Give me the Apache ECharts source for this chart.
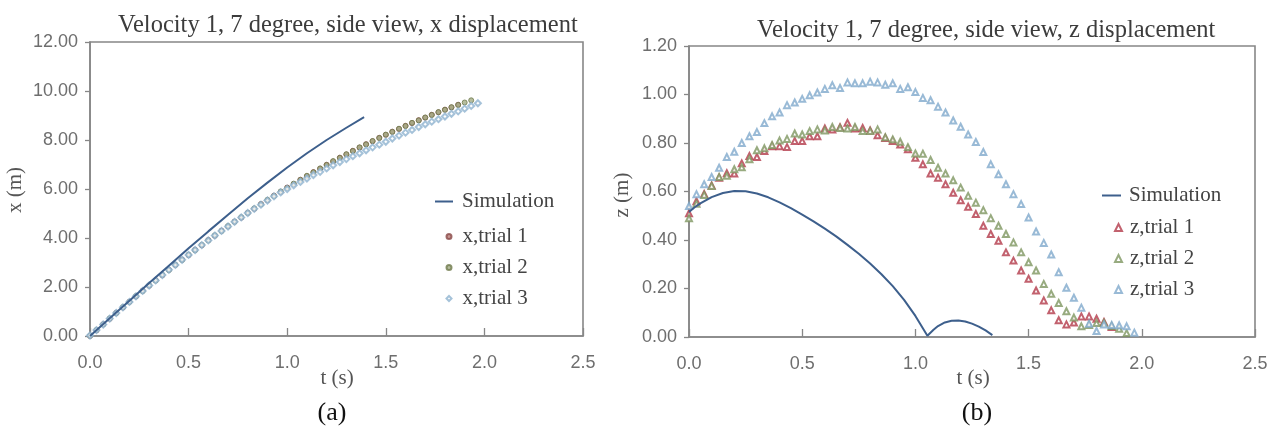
<!DOCTYPE html>
<html>
<head>
<meta charset="utf-8">
<script src="https://cdn.jsdelivr.net/npm/echarts@6/dist/echarts.min.js"></script>
<style>
html,body{margin:0;padding:0;background:#fff;}
#c{width:1276px;height:429px;}
</style>
</head>
<body>
<div id="c"></div>
<script>
// ---- data ----
var tFrames = [0, 0.033, 0.067, 0.1, 0.133, 0.167, 0.2, 0.233, 0.267, 0.3,
  0.333, 0.367, 0.4, 0.433, 0.467, 0.5, 0.533, 0.567, 0.6, 0.633,
  0.667, 0.7, 0.733, 0.767, 0.8, 0.833, 0.867, 0.9, 0.933, 0.967,
  1.0, 1.033, 1.067, 1.1, 1.133, 1.167, 1.2, 1.233, 1.267, 1.3,
  1.333, 1.367, 1.4, 1.433, 1.467, 1.5, 1.533, 1.567, 1.6, 1.633,
  1.667, 1.7, 1.733, 1.767, 1.8, 1.833, 1.867, 1.9, 1.933, 1.967];

var xSimT = [0, 0.1, 0.2, 0.3, 0.4, 0.5, 0.6, 0.7, 0.8, 0.9, 1.0, 1.1, 1.2, 1.3, 1.39];
var xSim  = [0, 0.72, 1.44, 2.16, 2.87, 3.58, 4.27, 4.95, 5.62, 6.26, 6.88, 7.46, 8.0, 8.5, 8.93];

var xTrial1 = [0, 0.23, 0.48, 0.70, 0.95, 1.16, 1.40, 1.61, 1.85, 2.05,
  2.28, 2.48, 2.70, 2.90, 3.12, 3.30, 3.52, 3.70, 3.92, 4.09,
  4.30, 4.47, 4.67, 4.83, 5.03, 5.19, 5.39, 5.54, 5.73, 5.88,
  6.06, 6.20, 6.38, 6.52, 6.69, 6.83, 6.99, 7.12, 7.28, 7.41,
  7.56, 7.69, 7.83, 7.95, 8.09, 8.21, 8.34, 8.45, 8.58, 8.69,
  8.81, 8.91, 9.03, 9.13, 9.24, 9.33, 9.44];
var xTrial2 = [0.01, 0.25, 0.47, 0.72, 0.93, 1.18, 1.39, 1.63, 1.83, 2.07,
  2.26, 2.50, 2.69, 2.91, 3.10, 3.32, 3.50, 3.72, 3.90, 4.11,
  4.28, 4.49, 4.66, 4.85, 5.02, 5.21, 5.37, 5.56, 5.71, 5.90,
  6.04, 6.22, 6.37, 6.54, 6.68, 6.84, 6.98, 7.14, 7.27, 7.42,
  7.55, 7.70, 7.82, 7.96, 8.08, 8.22, 8.33, 8.46, 8.57, 8.70,
  8.80, 8.92, 9.02, 9.14, 9.23, 9.34, 9.43, 9.53, 9.62];
var xTrial3 = [0.02, 0.24, 0.47, 0.71, 0.94, 1.17, 1.39, 1.62, 1.84, 2.06,
  2.27, 2.49, 2.70, 2.90, 3.11, 3.31, 3.51, 3.71, 3.90, 4.10,
  4.29, 4.47, 4.66, 4.84, 5.02, 5.19, 5.36, 5.53, 5.70, 5.86,
  6.00, 6.15, 6.29, 6.43, 6.57, 6.70, 6.84, 6.97, 7.10, 7.22,
  7.34, 7.46, 7.58, 7.70, 7.81, 7.93, 8.06, 8.18, 8.30, 8.41,
  8.53, 8.64, 8.75, 8.85, 8.96, 9.07, 9.17, 9.28, 9.39, 9.50];

var zSimT = [0, 0.025, 0.05, 0.1, 0.15, 0.2, 0.25, 0.3, 0.35, 0.4, 0.45, 0.5, 0.55, 0.6, 0.65, 0.7, 0.75, 0.8, 0.85, 0.9, 0.95, 1.0, 1.053,
  1.08, 1.1, 1.13, 1.16, 1.19, 1.22, 1.25, 1.28, 1.31, 1.34];
var zSim  = [0.515, 0.535, 0.551, 0.577, 0.594, 0.602, 0.601, 0.592, 0.576, 0.555, 0.531, 0.505, 0.477, 0.447, 0.415, 0.38, 0.343, 0.303, 0.259, 0.21, 0.153, 0.087, 0.005,
  0.03, 0.045, 0.06, 0.067, 0.068, 0.064, 0.055, 0.043, 0.027, 0.008];

var zTrial1 = [0.51, 0.56, 0.59, 0.625, 0.657, 0.675, 0.674, 0.716, 0.746, 0.742,
  0.767, 0.787, 0.787, 0.783, 0.808, 0.808, 0.828, 0.828, 0.86, 0.856,
  0.865, 0.883, 0.86, 0.862, 0.852, 0.832, 0.821, 0.808, 0.794, 0.774,
  0.739, 0.712, 0.674, 0.657, 0.63, 0.595, 0.564, 0.537, 0.507, 0.459,
  0.425, 0.397, 0.349, 0.315, 0.274, 0.24, 0.192, 0.151, 0.11, 0.069,
  0.052, 0.06, 0.085, 0.085, 0.075, 0.062, 0.041];
var zTrial2 = [0.49, 0.55, 0.586, 0.623, 0.66, 0.665, 0.692, 0.70, 0.733, 0.77,
  0.778, 0.792, 0.81, 0.817, 0.839, 0.835, 0.849, 0.856, 0.852, 0.866,
  0.862, 0.86, 0.866, 0.849, 0.849, 0.856, 0.824, 0.815, 0.805, 0.783,
  0.757, 0.756, 0.73, 0.698, 0.674, 0.646, 0.616, 0.582, 0.554, 0.523,
  0.49, 0.459, 0.425, 0.39, 0.349, 0.308, 0.274, 0.219, 0.178, 0.14,
  0.106, 0.08, 0.044, 0.05, 0.058, 0.058, 0.045, 0.034, 0.016];
var zTrial3 = [0.54, 0.589, 0.63, 0.66, 0.698, 0.742, 0.764, 0.80, 0.828, 0.845,
  0.882, 0.91, 0.926, 0.956, 0.967, 0.982, 0.997, 1.008, 1.023, 1.038,
  1.027, 1.05, 1.046, 1.046, 1.053, 1.05, 1.04, 1.046, 1.023, 1.03,
  1.01, 0.986, 0.976, 0.95, 0.926, 0.893, 0.867, 0.835, 0.804, 0.763,
  0.712, 0.671, 0.63, 0.589, 0.548, 0.493, 0.435, 0.388, 0.34, 0.267,
  0.203, 0.162, 0.121, 0.055, 0.025, 0.052, 0.05, 0.048, 0.044, 0.018];

var titles = ['Velocity 1, 7 degree, side view, x displacement', 'Velocity 1, 7 degree, side view, z displacement'];
var yNames = ['x (m)', 'z (m)'];
var xName = 't (s)';
var panelLabels = ['(a)', '(b)'];
var namesX = ['Simulation', 'x,trial 1', 'x,trial 2', 'x,trial 3'];
var namesZ = ['Simulation', 'z,trial 1', 'z,trial 2', 'z,trial 3'];

// ---- build ----
function pairs(ts, vs) { var o = []; for (var i = 0; i < vs.length; i++) o.push([ts[i], vs[i]]); return o; }

var SERIF = '"Liberation Serif","Times New Roman",serif';
var SANS = '"Liberation Sans",Arial,sans-serif';
var AX = '#878787';
var LINE = '#3d5f8c';
var RED = '#b33a4a', GREEN = '#7e9660', BLUE = '#80a9cc';

function xAxisCfg(gi) {
  return {
    type: 'value', gridIndex: gi, min: 0, max: 2.5, interval: 0.5,
    axisLine: {show: true, lineStyle: {color: AX, width: 1.6}},
    axisTick: {show: true, inside: true, length: 8, lineStyle: {color: AX, width: 1.3}},
    axisLabel: {color: '#6e6e6e', fontFamily: SANS, fontSize: 18, margin: 18, formatter: function (v) { return v.toFixed(1); }},
    splitLine: {show: false}
  };
}
function yAxisCfg(gi, max, step) {
  return {
    type: 'value', gridIndex: gi, min: 0, max: max, interval: step,
    axisLine: {show: true, lineStyle: {color: AX, width: 1.6}},
    axisTick: {show: true, inside: false, length: 5, lineStyle: {color: AX, width: 1.3}},
    axisLabel: {color: '#6e6e6e', fontFamily: SANS, fontSize: 18, margin: 12, formatter: function (v) { return v.toFixed(2); }},
    splitLine: {show: false}
  };
}

var chart = echarts.init(document.getElementById('c'), null, {renderer: 'canvas'});
var option = {
  animation: false,
  backgroundColor: '#fff',
  grid: [
    {left: 90, top: 42, width: 493, height: 294, show: true, borderColor: AX, borderWidth: 1.6, backgroundColor: 'transparent'},
    {left: 689, top: 46, width: 566, height: 291, show: true, borderColor: AX, borderWidth: 1.6, backgroundColor: 'transparent'}
  ],
  xAxis: [xAxisCfg(0), xAxisCfg(1)],
  yAxis: [yAxisCfg(0, 12, 2), yAxisCfg(1, 1.2, 0.2)],
  legend: [
    {data: [{name: namesX[0], icon: 'rect'}], left: 435, top: 191, padding: 0, itemWidth: 18, itemHeight: 2,
      textStyle: {fontFamily: SERIF, fontSize: 21, color: '#444', padding: [0, 0, 0, 4]}, selectedMode: false},
    {data: [namesX[1], namesX[2], namesX[3]], orient: 'vertical', left: 445.5, top: 226, padding: 0, itemWidth: 5, itemHeight: 5, itemGap: 10,
      textStyle: {fontFamily: SERIF, fontSize: 21, color: '#444', padding: [0, 0, 0, 6]}, selectedMode: false},
    {data: [{name: namesZ[0], icon: 'rect'}], left: 1102, top: 185, padding: 0, itemWidth: 19, itemHeight: 2,
      textStyle: {fontFamily: SERIF, fontSize: 21, color: '#444', padding: [0, 0, 0, 3]}, selectedMode: false},
    {data: [namesZ[1], namesZ[2], namesZ[3]], orient: 'vertical', left: 1114, top: 217, padding: 0, itemWidth: 7, itemHeight: 7, itemGap: 10,
      textStyle: {fontFamily: SERIF, fontSize: 21, color: '#444', padding: [0, 0, 0, 3]}, selectedMode: false}
  ],
  graphic: [
    {type: 'text', left: 118, top: 13, style: {text: titles[0], font: '24.5px ' + SERIF, fill: '#3c3c3c'}},
    {type: 'text', left: 757, top: 18, style: {text: titles[1], font: '24.5px ' + SERIF, fill: '#3c3c3c'}},
    {type: 'text', x: 337, y: 378, style: {text: xName, font: '21px ' + SERIF, fill: '#555', align: 'center', verticalAlign: 'middle'}},
    {type: 'text', x: 973, y: 378, style: {text: xName, font: '21px ' + SERIF, fill: '#555', align: 'center', verticalAlign: 'middle'}},
    {type: 'text', x: 15, y: 190, rotation: Math.PI / 2, style: {text: yNames[0], font: '21px ' + SERIF, fill: '#555', align: 'center', verticalAlign: 'middle'}},
    {type: 'text', x: 622, y: 195, rotation: Math.PI / 2, style: {text: yNames[1], font: '21px ' + SERIF, fill: '#555', align: 'center', verticalAlign: 'middle'}},
    {type: 'text', x: 332, y: 413, style: {text: panelLabels[0], font: '26px ' + SERIF, fill: '#111', align: 'center', verticalAlign: 'middle'}},
    {type: 'text', x: 977, y: 413, style: {text: panelLabels[1], font: '26px ' + SERIF, fill: '#111', align: 'center', verticalAlign: 'middle'}}
  ],
  series: [
    {name: namesX[0], type: 'line', xAxisIndex: 0, yAxisIndex: 0, data: pairs(xSimT, xSim), showSymbol: false, smooth: false,
      lineStyle: {color: LINE, width: 2}, itemStyle: {color: LINE}, z: 3},
    {name: namesX[1], type: 'scatter', xAxisIndex: 0, yAxisIndex: 0, data: pairs(tFrames, xTrial1), symbol: 'circle', symbolSize: 5,
      itemStyle: {color: '#b77a76', borderColor: '#8a4a48', borderWidth: 1}},
    {name: namesX[2], type: 'scatter', xAxisIndex: 0, yAxisIndex: 0, data: pairs(tFrames, xTrial2), symbol: 'circle', symbolSize: 5,
      itemStyle: {color: '#a3ab84', borderColor: '#6f7a4c', borderWidth: 1}},
    {name: namesX[3], type: 'scatter', xAxisIndex: 0, yAxisIndex: 0, data: pairs(tFrames, xTrial3), symbol: 'emptyDiamond', symbolSize: 6,
      itemStyle: {color: '#8fb3cf', borderColor: '#8fb3cf', borderWidth: 1.2}},
    {name: namesZ[0], type: 'line', xAxisIndex: 1, yAxisIndex: 1, data: pairs(zSimT, zSim), showSymbol: false, smooth: false,
      lineStyle: {color: LINE, width: 2}, itemStyle: {color: LINE}, z: 3},
    {name: namesZ[1], type: 'scatter', xAxisIndex: 1, yAxisIndex: 1, data: pairs(tFrames, zTrial1), symbol: 'emptyTriangle', symbolSize: 6,
      itemStyle: {color: RED, borderColor: RED, borderWidth: 1.5}},
    {name: namesZ[2], type: 'scatter', xAxisIndex: 1, yAxisIndex: 1, data: pairs(tFrames, zTrial2), symbol: 'emptyTriangle', symbolSize: 6,
      itemStyle: {color: GREEN, borderColor: GREEN, borderWidth: 1.5}},
    {name: namesZ[3], type: 'scatter', xAxisIndex: 1, yAxisIndex: 1, data: pairs(tFrames, zTrial3), symbol: 'emptyTriangle', symbolSize: 6,
      itemStyle: {color: BLUE, borderColor: BLUE, borderWidth: 1.5}}
  ]
};
chart.setOption(option);
</script>
</body>
</html>
